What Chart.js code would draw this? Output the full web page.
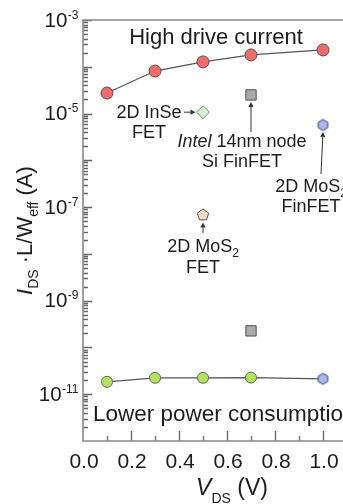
<!DOCTYPE html>
<html><head><meta charset="utf-8">
<script src="https://cdn.jsdelivr.net/npm/chart.js@4/dist/chart.umd.min.js"></script>
<style>
html,body{margin:0;padding:0;background:#fff;overflow:hidden;width:343px;height:504px;}
#wrap{position:relative;width:360px;height:504px;}
</style></head><body>
<div id="wrap"><canvas id="c" width="360" height="504"></canvas></div>
<script>
// ---- data ----
const vdsHigh = [0.1, 0.3, 0.5, 0.7, 1.0];
const idsHigh = [2.75e-5, 8.1e-5, 1.27e-4, 1.79e-4, 2.29e-4];
const vdsLow = [0.1, 0.3, 0.5, 0.7, 1.0];
const idsLow = [1.84e-11, 2.24e-11, 2.24e-11, 2.27e-11, 2.13e-11];
const vdsInSe = [0.5];
const idsInSe = [1.07e-5];
const vdsIntel = [0.7, 0.7];
const idsIntel = [2.5e-5, 2.26e-10];
const vdsMoS2FinFET = [1.0];
const idsMoS2FinFET = [5.7e-6];
const vdsMoS2FET = [0.5];
const idsMoS2FET = [6.8e-8];
const xTickValues = [0, 0.2, 0.4, 0.6, 0.8, 1.0];
const xTickLabels = ['0.0', '0.2', '0.4', '0.6', '0.8', '1.0'];
const yTickExponents = [-3, -5, -7, -9, -11];
const yTickBase = '10';

const FF = '"Liberation Sans", Arial, Helvetica, sans-serif';
const TXT = '#1c1c1c';
const AX = '#8a8a8a';
const TK = '#666666';

function pts(xs, ys) { return xs.map((v, i) => ({x: v, y: ys[i]})); }

function polyImg(n, r, fill, stroke) {
  const s = Math.ceil(2 * r + 4);
  const cv = document.createElement('canvas');
  cv.width = s; cv.height = s;
  const g = cv.getContext('2d');
  g.beginPath();
  for (let i = 0; i < n; i++) {
    const a = -Math.PI / 2 + i * 2 * Math.PI / n;
    const px = s / 2 + r * Math.cos(a), py = s / 2 + r * Math.sin(a);
    if (i === 0) g.moveTo(px, py); else g.lineTo(px, py);
  }
  g.closePath();
  g.fillStyle = fill; g.fill();
  g.lineWidth = 1; g.strokeStyle = stroke; g.stroke();
  return cv;
}
const hexImg = polyImg(6, 5.5, '#A8B6F2', '#3c4266');
const pentImg = polyImg(5, 6, '#F8D9C6', '#5a5050');

function rich(ctx, parts, x, y, align) {
  let w = 0;
  parts.forEach(p => { ctx.font = (p.it ? 'italic ' : '') + p.s + 'px ' + FF; p.w = ctx.measureText(p.t).width; w += p.w; });
  let cx = align === 'center' ? x - w / 2 : (align === 'right' ? x - w : x);
  ctx.textAlign = 'left'; ctx.textBaseline = 'alphabetic';
  parts.forEach(p => { ctx.font = (p.it ? 'italic ' : '') + p.s + 'px ' + FF; ctx.fillText(p.t, cx, y + (p.dy || 0)); cx += p.w; });
}

function arrow(ctx, x1, y1, x2, y2) {
  const ang = Math.atan2(y2 - y1, x2 - x1);
  const L = 5, H = 2.6;
  ctx.beginPath(); ctx.moveTo(x1, y1); ctx.lineTo(x2 - L * Math.cos(ang), y2 - L * Math.sin(ang)); ctx.stroke();
  ctx.beginPath();
  ctx.moveTo(x2, y2);
  ctx.lineTo(x2 - L * Math.cos(ang) + H * Math.sin(ang), y2 - L * Math.sin(ang) - H * Math.cos(ang));
  ctx.lineTo(x2 - L * Math.cos(ang) - H * Math.sin(ang), y2 - L * Math.sin(ang) + H * Math.cos(ang));
  ctx.closePath(); ctx.fill();
}

// annotation labels anchored to their points (pixel offsets)
const notes = [
  {x: vdsInSe[0], y: idsInSe[0], lines: [[{t: '2D InSe', s: 18}], [{t: 'FET', s: 18}]], dx: -54, dy: [6, 26], arrow: [-19, 0, -7.5, 0]},
  {x: vdsIntel[0], y: idsIntel[0], lines: [[{t: 'Intel', s: 18, it: true}, {t: ' 14nm node', s: 18}], [{t: 'Si FinFET', s: 18}]], dx: -9, dy: [52, 72], arrow: [0, 37, 0, 7]},
  {x: vdsMoS2FinFET[0], y: idsMoS2FinFET[0], lines: [[{t: '2D MoS', s: 18}, {t: '2', s: 12, dy: 5}], [{t: 'FinFET', s: 18}]], dx: -12, dy: [67, 87], arrow: [-2, 49, 0, 7]},
  {x: vdsMoS2FET[0], y: idsMoS2FET[0], lines: [[{t: '2D MoS', s: 18}, {t: '2', s: 12, dy: 5}], [{t: 'FET', s: 18}]], dx: 0, dy: [37, 58], arrow: [0, 18, 0, 7.5]}
];

const deco = {
  id: 'deco',
  beforeDatasetsDraw(chart) {
    const {ctx, chartArea: a, scales: {x, y}} = chart;
    ctx.save();
    ctx.strokeStyle = TK; ctx.lineWidth = 1.3;
    ctx.beginPath();
    for (let e = -12; e <= -3; e++) {
      for (let k = 1; k <= 9; k++) {
        if (e === -3 && k > 1) break;
        if (e === -12 && k === 1) continue;
        const py = Math.round(y.getPixelForValue(k * Math.pow(10, e))) + 0.5;
        const len = k === 1 ? 9 : 5;
        ctx.moveTo(a.left, py); ctx.lineTo(a.left + len, py);
      }
    }
    for (let i = 1; i <= 10; i++) {
      const px = Math.round(x.getPixelForValue(i / 10)) + 0.5;
      const len = i % 2 === 0 ? 10 : 5;
      ctx.moveTo(px, a.bottom); ctx.lineTo(px, a.bottom - len);
    }
    ctx.stroke();
    ctx.strokeStyle = AX; ctx.lineWidth = 1.6;
    ctx.beginPath();
    ctx.moveTo(chart.width, a.top); ctx.lineTo(a.left, a.top); ctx.lineTo(a.left, a.bottom); ctx.lineTo(chart.width, a.bottom);
    ctx.stroke();
    ctx.restore();
  },
  afterDatasetsDraw(chart) {
    const {ctx, chartArea: a, scales: {x, y}} = chart;
    ctx.save();
    ctx.fillStyle = TXT;
    // y tick labels
    yTickExponents.forEach(e => {
      const py = y.getPixelForValue(Math.pow(10, e));
      ctx.font = '12px ' + FF;
      const sw = ctx.measureText(String(e)).width;
      ctx.textAlign = 'right'; ctx.textBaseline = 'alphabetic';
      ctx.fillText(String(e), a.left - 4.5, py - 1.5);
      ctx.font = '20.5px ' + FF;
      ctx.fillText(yTickBase, a.left - 5 - sw, py + 6.5);
    });
    // x tick labels
    ctx.font = '21px ' + FF; ctx.textAlign = 'center'; ctx.textBaseline = 'alphabetic';
    xTickValues.forEach((v, i) => ctx.fillText(xTickLabels[i], x.getPixelForValue(v) + 1, a.bottom + 27));
    // x title
    rich(ctx, [{t: 'V', s: 23, it: true}, {t: 'DS', s: 14, dy: 8}, {t: ' (V)', s: 23}], a.left + 149, a.bottom + 54, 'center');
    // y title
    ctx.save();
    ctx.translate(32, (a.top + a.bottom) / 2);
    ctx.rotate(-Math.PI / 2);
    rich(ctx, [{t: 'I', s: 22, it: true}, {t: 'DS', s: 14, dy: 6}, {t: ' \u00B7L/W', s: 22}, {t: 'eff', s: 14, dy: 6}, {t: ' (A)', s: 22}], 0, 0, 'center');
    ctx.restore();
    // region labels
    rich(ctx, [{t: 'High drive current', s: 22}], a.left + 133, a.top + 24, 'center');
    rich(ctx, [{t: 'Lower power consumption', s: 22.5}], a.left + 10, a.bottom - 20.5, 'left');
    // annotations
    ctx.strokeStyle = '#333'; ctx.fillStyle = TXT; ctx.lineWidth = 1;
    notes.forEach(n => {
      const px = x.getPixelForValue(n.x), py = y.getPixelForValue(n.y);
      n.lines.forEach((ln, i) => rich(ctx, ln.map(p => Object.assign({}, p)), px + n.dx, py + n.dy[i], 'center'));
      const ar = n.arrow;
      ctx.fillStyle = '#333';
      arrow(ctx, px + ar[0], py + ar[1], px + ar[2], py + ar[3]);
      ctx.fillStyle = TXT;
    });
    ctx.restore();
  }
};

new Chart(document.getElementById('c'), {
  type: 'scatter',
  data: {
    datasets: [
      {label: '2D InSe FET', data: pts(vdsInSe, idsInSe), pointStyle: 'rectRot', pointRadius: 6.5, backgroundColor: '#D9EED0', borderColor: '#6d8f6d', borderWidth: 1},
      {label: 'Intel 14nm node Si FinFET', data: pts(vdsIntel, idsIntel), pointStyle: 'rect', pointRadius: 7.3, backgroundColor: '#ABABAB', borderColor: '#4f4f4f', borderWidth: 1},
      {label: '2D MoS2 FinFET', data: pts(vdsMoS2FinFET, idsMoS2FinFET), pointStyle: hexImg, pointRadius: 5},
      {label: '2D MoS2 FET', data: pts(vdsMoS2FET, idsMoS2FET), pointStyle: pentImg, pointRadius: 5},
      {label: 'High drive current', type: 'line', data: pts(vdsHigh, idsHigh), showLine: true, borderColor: '#555', borderWidth: 1.2,
        pointRadius: 6, pointBackgroundColor: '#F26B6B', pointBorderColor: '#5a4a4a', pointBorderWidth: 1, tension: 0},
      {label: 'Lower power consumption', type: 'line', data: pts(vdsLow, idsLow), showLine: true, borderColor: '#555', borderWidth: 1.2,
        pointStyle: c => vdsLow[c.dataIndex] === 1.0 ? hexImg : 'circle',
        pointRadius: 5.5, pointBackgroundColor: '#B6E15E', pointBorderColor: '#5b6b48', pointBorderWidth: 1, tension: 0}
    ]
  },
  options: {
    responsive: false, animation: false, events: [],
    layout: {padding: {left: 83, top: 20, right: 13, bottom: 63}},
    plugins: {legend: {display: false}, tooltip: {enabled: false}},
    scales: {
      x: {type: 'linear', min: 0, max: 1.1, display: false},
      y: {type: 'logarithmic', min: 1e-12, max: 1e-3, display: false}
    }
  },
  plugins: [deco]
});
</script>
</body></html>
